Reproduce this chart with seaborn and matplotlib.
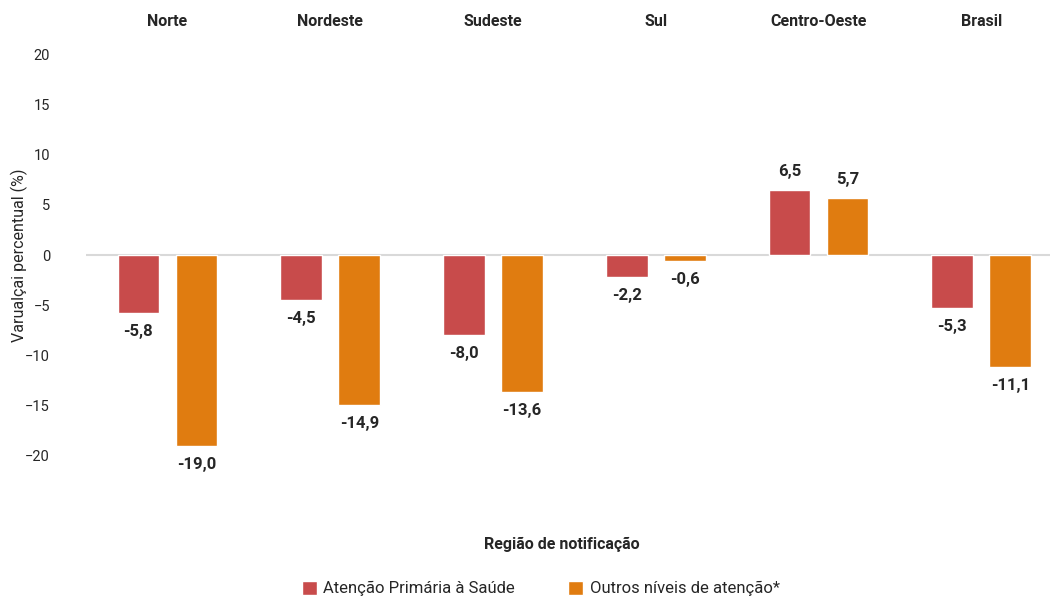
import pandas as pd
import matplotlib.pyplot as plt
import seaborn as sns

# Dados
regioes = ["Norte", "Nordeste", "Sudeste", "Sul", "Centro-Oeste", "Brasil"]
aps = [-5.8, -4.5, -8.0, -2.2, 6.5, -5.3]
outros = [-19.0, -14.9, -13.6, -0.6, 5.7, -11.1]
series = ["Atenção Primária à Saúde", "Outros níveis de atenção*"]
cores = ["#C84B4B", "#E07C10"]

df = pd.DataFrame({
    "regiao": regioes * 2,
    "nivel": [series[0]] * len(regioes) + [series[1]] * len(regioes),
    "valor": aps + outros,
})

sns.set_style("white")
plt.rcParams["font.family"] = ["Roboto", "DejaVu Sans"]

fig = plt.figure(figsize=(10.5, 6.03), dpi=100)
ax = fig.add_axes([0.082, 0.244, 0.93, 0.666])

sns.barplot(data=df, x="regiao", y="valor", hue="nivel", palette=cores,
            width=0.714, gap=0.28, saturation=1, ax=ax, legend=True)

for cont in ax.containers:
    vals = [b.get_height() for b in cont]
    ax.bar_label(cont, labels=[f"{v:.1f}".replace(".", ",") for v in vals],
                 padding=8, fontsize=12, fontweight="bold")

ax.set_xlim(-0.5, 5.5)
ax.set_ylim(-20, 20)
ax.set_yticks(range(-20, 21, 5))
ax.tick_params(axis="y", length=0, labelsize=10.5, pad=26)
ax.xaxis.tick_top()
ax.tick_params(axis="x", length=0, labelsize=11.5, pad=18)
for lab in ax.get_xticklabels():
    lab.set_fontweight("bold")
ax.set_xlabel("")
ax.set_ylabel("Varualçai percentual (%)", fontsize=11.5)
ax.yaxis.set_label_coords(-0.06, 0.5)
sns.despine(ax=ax, left=True, bottom=True, top=True, right=True)
ax.axhline(0, color="#d9d9d9", lw=1.5, zorder=0)

fig.text(0.535, 0.09, "Região de notificação", ha="center", fontsize=11.5, fontweight="bold")

handles, labels = ax.get_legend_handles_labels()
ax.legend_.remove()
fig.legend(handles, labels, loc="lower center", bbox_to_anchor=(0.515, -0.014), ncol=2,
           frameon=False, fontsize=12, handlelength=0.9, handleheight=0.9,
           handletextpad=0.4, columnspacing=3.2)

fig.savefig("out.png", dpi=100)
